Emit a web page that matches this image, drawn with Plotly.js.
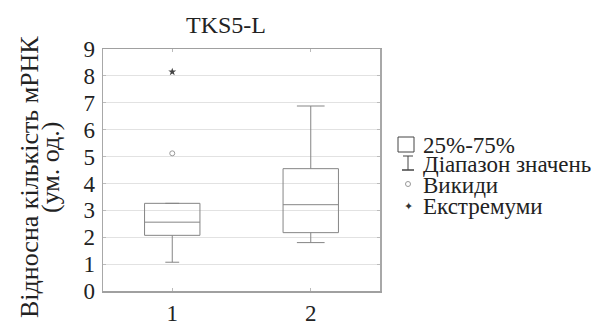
<!DOCTYPE html>
<html>
<head>
<meta charset="utf-8">
<script src="https://cdn.plot.ly/plotly-3.0.1.min.js"></script>
<style>html,body{margin:0;padding:0;background:#fff;}#chart{width:608px;height:323px;}</style>
</head>
<body>
<div id="chart"></div>
<script>
// ---- data ----
var categories = [1, 2];
var q1Values = [2.07, 2.17];
var medianValues = [2.56, 3.21];
var q3Values = [3.26, 4.55];
var minValues = [1.07, 1.80];
var maxValues = [3.26, 6.88];
var outlierX = [1];
var outlierY = [5.12];
var extremeX = [1];
var extremeY = [8.15];
var tickLabels = ['1', '2'];
var yTicks = [0, 1, 2, 3, 4, 5, 6, 7, 8, 9];
var chartTitle = 'TKS5-L';
var yTitleLines = ['Відносна кількість мРНК', '(ум. од.)'];
var legendLabels = ['25%-75%', 'Діапазон значень', 'Викиди', 'Екстремуми'];

var FONT = 'Liberation Serif';
var boxColor = '#858585';
var capWidths = [0.25, 0.5];

function draw() {
  var traces = [];
  categories.forEach(function (c, i) {
    traces.push({
      type: 'box',
      x: [c],
      q1: [q1Values[i]],
      median: [medianValues[i]],
      q3: [q3Values[i]],
      lowerfence: [minValues[i]],
      upperfence: [maxValues[i]],
      width: 0.4,
      whiskerwidth: capWidths[i],
      boxpoints: false,
      fillcolor: 'rgba(255,255,255,0)',
      line: {color: boxColor, width: 1},
      hoverinfo: 'skip',
      showlegend: false
    });
  });
  traces.push({
    type: 'scatter', mode: 'markers', x: outlierX, y: outlierY,
    marker: {symbol: 'circle-open', size: 5, color: '#999', line: {width: 1, color: '#999'}},
    showlegend: false, hoverinfo: 'skip'
  });
  traces.push({
    type: 'scatter', mode: 'markers', x: extremeX, y: extremeY,
    marker: {symbol: 'star', size: 6, color: '#444'},
    showlegend: false, hoverinfo: 'skip'
  });

  var L = 103, R = 380, T = 49, B = 291, W = 608, H = 323;
  function px(x) { return (x - L) / (R - L); }
  function py(y) { return (B - y) / (B - T); }

  var annotations = [
    {text: chartTitle, xref: 'paper', yref: 'paper', x: px(226), y: py(25), xanchor: 'center', yanchor: 'middle',
     showarrow: false, font: {family: FONT, size: 24, color: '#222'}},
    {text: yTitleLines[0], xref: 'paper', yref: 'paper', x: px(29), y: py(177), xanchor: 'center', yanchor: 'middle',
     textangle: -90, showarrow: false, font: {family: FONT, size: 26, color: '#222'}},
    {text: yTitleLines[1], xref: 'paper', yref: 'paper', x: px(50), y: py(168), xanchor: 'center', yanchor: 'middle',
     textangle: -90, showarrow: false, font: {family: FONT, size: 26, color: '#222'}}
  ];
  var legendY = [145, 164, 185, 206];
  legendLabels.forEach(function (t, i) {
    annotations.push({text: t, xref: 'paper', yref: 'paper', x: px(421), y: py(legendY[i]), xanchor: 'left', yanchor: 'middle',
      showarrow: false, font: {family: FONT, size: 23, color: '#222'}});
  });
  annotations.push({text: '✦', xref: 'paper', yref: 'paper', x: px(408), y: py(206), xanchor: 'center', yanchor: 'middle',
    showarrow: false, font: {family: 'DejaVu Sans', size: 11, color: '#333'}});

  var shapes = [
    {type: 'rect', xref: 'paper', yref: 'paper', x0: px(398), x1: px(414), y0: py(137), y1: py(152), line: {color: '#444', width: 1}},
    {type: 'line', xref: 'paper', yref: 'paper', x0: px(408), x1: px(408), y0: py(156), y1: py(170), line: {color: '#444', width: 1}},
    {type: 'line', xref: 'paper', yref: 'paper', x0: px(403), x1: px(413), y0: py(156), y1: py(156), line: {color: '#444', width: 1}},
    {type: 'line', xref: 'paper', yref: 'paper', x0: px(402), x1: px(414), y0: py(170), y1: py(170), line: {color: '#444', width: 1.5}},
    {type: 'circle', xref: 'paper', yref: 'paper', x0: px(405.5), x1: px(410.5), y0: py(181.5), y1: py(186.5), line: {color: '#999', width: 1}}
  ];

  var layout = {
    width: W, height: H,
    margin: {l: L, r: W - R, t: T, b: H - B, pad: 0},
    paper_bgcolor: '#fff', plot_bgcolor: '#fff',
    showlegend: false,
    font: {family: FONT},
    xaxis: {
      range: [0.5, 2.5], tickvals: categories, ticktext: tickLabels,
      showgrid: false, zeroline: false, showline: true, linecolor: '#a0a0a0', linewidth: 1.5,
      mirror: 'ticks', ticks: 'inside', ticklen: 3, tickcolor: '#bbb',
      tickfont: {family: FONT, size: 23, color: '#222'}, ticklabelstandoff: 1
    },
    yaxis: {
      range: [0, 9], tickvals: yTicks,
      showgrid: true, gridcolor: '#e2e2e2', gridwidth: 1, zeroline: false,
      showline: true, linecolor: '#a8a8a8', linewidth: 1.5,
      mirror: 'ticks', ticks: 'inside', ticklen: 3, tickcolor: '#bbb',
      tickfont: {family: FONT, size: 23, color: '#222'}, ticklabelstandoff: 2
    },
    annotations: annotations,
    shapes: shapes
  };

  Plotly.newPlot('chart', traces, layout, {staticPlot: true, displayModeBar: false});
}

if (document.fonts && document.fonts.load) {
  document.fonts.load('24px "Liberation Serif"', 'TKS5-L Відносна').then(draw, draw);
} else {
  draw();
}
</script>
</body>
</html>
